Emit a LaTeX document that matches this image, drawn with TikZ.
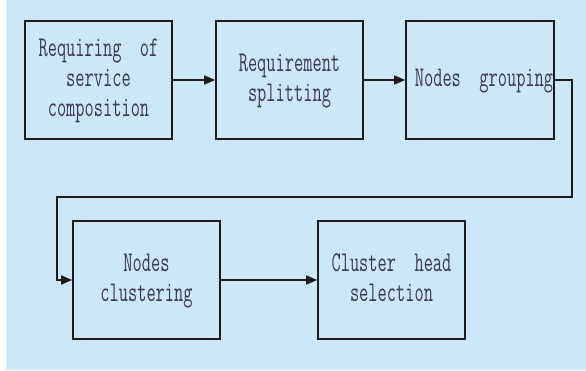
\documentclass[tikz,border=0pt]{standalone}
\usetikzlibrary{arrows.meta}
\definecolor{bgblue}{RGB}{204,232,248}
\definecolor{linecol}{RGB}{28,28,30}
\definecolor{txtcol}{RGB}{58,58,78}
\newcommand{\boxtxt}[1]{\scalebox{0.626}[1]{\fontsize{28.6}{30}\selectfont\ttfamily\begin{tabular}{@{}c@{}}#1\end{tabular}}}
\tikzset{
  stagebox/.style={draw=linecol, line width=1.6pt, minimum width=147pt, minimum height=118pt, inner sep=0pt, text=txtcol, align=center},
  flowarrow/.style={draw=linecol, line width=1.6pt, -{Triangle[length=11pt,width=9pt]}},
}
\begin{document}
\begin{tikzpicture}[x=1pt,y=-1pt]
\useasboundingbox (0,0) rectangle (586,370);
\fill[bgblue] (6,0) rectangle (586,370);
\node[stagebox] (b1) at (98.5,80) {\boxtxt{Requiring\ \ of\\service\\composition}};
\node[stagebox] (b2) at (289.5,80) {\boxtxt{Requirement\\splitting}};
\node[stagebox, minimum width=148pt] (b3) at (480,80) {\hspace*{8pt}\boxtxt{Nodes\ \ grouping}};
\node[stagebox] (b4) at (146.5,280) {\boxtxt{Nodes\\clustering}};
\node[stagebox] (b5) at (391.5,280) {\boxtxt{Cluster\ \ head\\selection}};
\draw[flowarrow] (b1) -- (b2);
\draw[flowarrow] (b2) -- (b3);
\coordinate (r1) at (572,80);
\coordinate (r2) at (572,197);
\coordinate (l1) at (57,197);
\coordinate (l2) at (57,280);
\draw[flowarrow] (b3.east) -- (r1) -- (r2) -- (l1) -- (l2) -- (b4.west);
\draw[flowarrow] (b4) -- (b5);
\end{tikzpicture}
\end{document}
